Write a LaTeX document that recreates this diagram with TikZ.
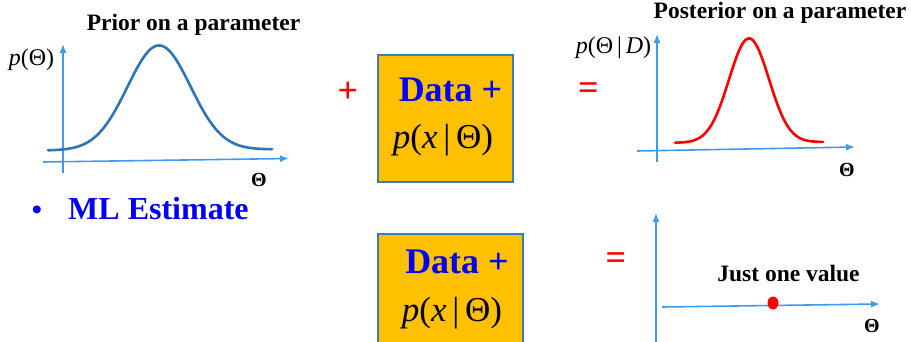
\documentclass[tikz,border=0pt]{standalone}
\usepackage{fontspec}
\setmainfont{Liberation Serif}
\usetikzlibrary{arrows.meta,shapes.geometric}
\definecolor{axisblue}{HTML}{3D9AF0}
\definecolor{curveblue}{HTML}{2E75B6}
\definecolor{boxfill}{HTML}{FFC000}
\definecolor{boxline}{HTML}{3A7CC0}
\definecolor{textblue}{HTML}{0000FF}
\definecolor{redc}{HTML}{FF0000}
\begin{document}
\begin{tikzpicture}[x=1pt,y=-1pt,
  axis/.style={draw=axisblue, line width=1.6pt, -{Latex[length=9pt,width=7pt]}},
  title/.style={font=\fontsize{23.5}{28}\selectfont\bfseries, inner sep=0},
  ylab/.style={font=\fontsize{24}{28}\selectfont, inner sep=0},
  thlab/.style={font=\fontsize{20}{24}\selectfont\bfseries, inner sep=0},
  databox/.style={draw=boxline, line width=2pt, fill=boxfill, inner sep=0},
  datatext/.style={font=\fontsize{36}{40}\selectfont\bfseries, text=textblue, inner sep=0},
  liktext/.style={font=\fontsize{35}{40}\selectfont, inner sep=0},
  optext/.style={font=\fontsize{36}{40}\selectfont\bfseries, text=redc, inner sep=0}
]
\useasboundingbox (0,0) rectangle (911,342);

% ---------- Prior ----------
\node[title] (priort) at (193.5,25) {Prior on a parameter};
\node[ylab] (priory) at (31.5,60) {\textit{p}(Θ)};
\coordinate (pva) at (63,173);
\coordinate (pvb) at (63,44);
\coordinate (pha) at (43,162);
\coordinate (phb) at (289,158.5);
\draw[axis] (pva) -- (pvb);
\draw[axis] (pha) -- (phb);
\draw[curveblue, line width=2.6pt, line cap=round]
  plot[domain=48:272, samples=120, smooth] (\x, {150.5 - 0.005*(\x-48) - 104.5*exp(-0.5*((\x-159)/31.5)^2)});
\node[thlab] (priorx) at (259,180) {Θ};

% ---------- operator and box 1 ----------
\node[optext] (plus) at (348,92) {+};
\node[databox, minimum width=135pt, minimum height=127pt] (box1) at (445.5,118.5) {};
\node[datatext] (data1) at (450.5,90) {Data +};
\node[liktext] (lik1) at (443,140) {\textit{p}(\textit{x}\,|\,Θ)};
\node[optext] (eq1) at (588.5,91) {=};

% ---------- Posterior ----------
\node[title] (postt) at (780,13) {Posterior on a parameter};
\node[ylab] (posty) at (613.5,48) {\textit{p}(Θ\,|\,\textit{D})};
\coordinate (qva) at (657,162);
\coordinate (qvb) at (657,34);
\coordinate (qha) at (637,151);
\coordinate (qhb) at (855,147);
\draw[axis] (qva) -- (qvb);
\draw[axis] (qha) -- (qhb);
\draw[redc, line width=2.6pt, line cap=round]
  plot[domain=675:823, samples=120, smooth] (\x, {142.8 - 0.005*(\x-675) - 104*exp(-0.5*((\x-749)/20)^2)});
\node[thlab] (postx) at (847,170) {Θ};

% ---------- ML Estimate ----------
\node[font=\fontsize{29}{32}\selectfont\bfseries, text=textblue, inner sep=0] (bullet) at (37,213) {•};
\node[font=\fontsize{32}{36}\selectfont\bfseries, text=textblue, inner sep=0, anchor=west] (ml) at (68,209) {ML Estimate};

% ---------- box 2 ----------
\node[databox, minimum width=145pt, minimum height=130pt, anchor=north west] (box2) at (377,233) {};
\node[datatext] (data2) at (457,262) {Data +};
\node[liktext] (lik2) at (452,313) {\textit{p}(\textit{x}\,|\,Θ)};
\node[optext] (eq2) at (616,261) {=};

% ---------- ML result ----------
\coordinate (rva) at (656,350);
\coordinate (rvb) at (656,213);
\coordinate (rha) at (662,307);
\coordinate (rhb) at (880,304);
\draw[axis] (rva) -- (rvb);
\draw[axis] (rha) -- (rhb);
\node[title] (just) at (788.5,273) {Just one value};
\node[draw=none, fill=redc, ellipse, minimum width=11pt, minimum height=13pt, inner sep=0] (dot) at (773,303) {};
\node[thlab] (mlx) at (872,326) {Θ};
\end{tikzpicture}
\end{document}
